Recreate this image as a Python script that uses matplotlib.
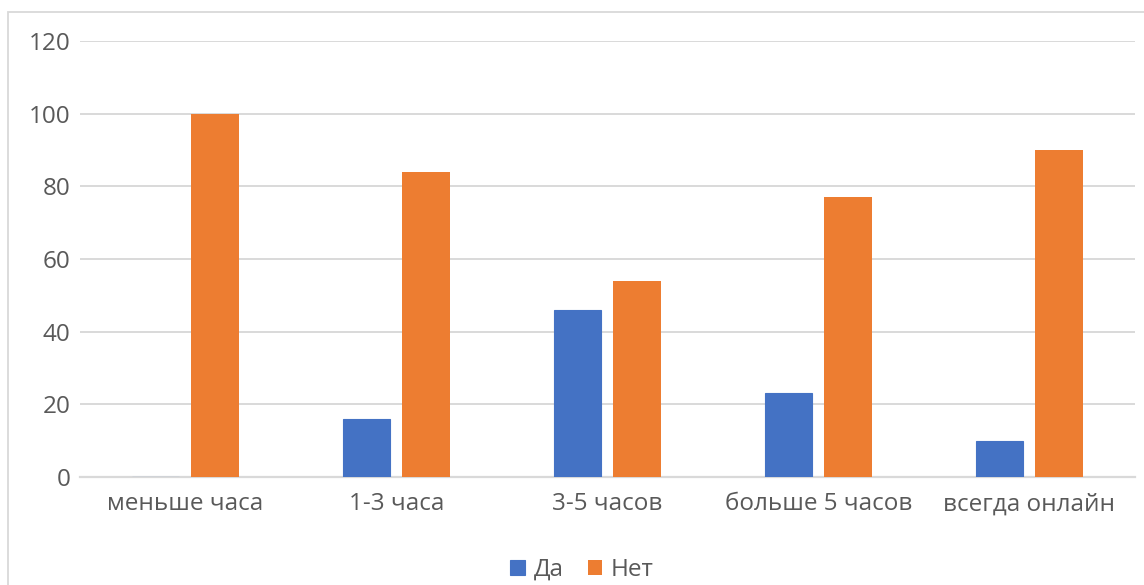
import numpy as np
import matplotlib.pyplot as plt
from matplotlib.patches import Rectangle

plt.rcParams["font.family"] = ["Open Sans", "DejaVu Sans"]

categories = ["меньше часа", "1-3 часа", "3-5 часов", "больше 5 часов", "всегда онлайн"]
yes_vals = [0, 16, 46, 23, 10]
no_vals = [100, 84, 54, 77, 90]

BLUE, ORANGE = "#4472C4", "#ED7D31"
TXT, GRID = "#595959", "#D9D9D9"
FS = 17.5

fig = plt.figure(figsize=(11.44, 5.85), dpi=100)
ax = fig.add_axes([0.0699, 0.1846, 0.9222, 0.7453])

# chart frame
fig.patches.append(Rectangle((8 / 1144, -0.2), 1.2, 1.2 - 12 / 585,
                             transform=fig.transFigure, fill=False,
                             edgecolor=GRID, lw=1.3))

x = np.arange(len(categories))
w = 0.227
off = 0.142
ax.bar(x - off, yes_vals, w, color=BLUE, edgecolor=BLUE, lw=0.8, label="Да", zorder=3)
ax.bar(x + off, no_vals, w, color=ORANGE, label="Нет", zorder=3)

ax.set_xlim(-0.5, len(categories) - 0.5)
ax.set_ylim(0, 120)
ax.set_yticks(range(0, 121, 20))
ax.set_xticks(x)
ax.set_xticklabels(categories)
ax.tick_params(length=0, labelsize=FS, labelcolor=TXT)
ax.tick_params(axis="y", pad=7)
ax.tick_params(axis="x", pad=11)
ax.grid(axis="y", color=GRID, lw=1.4, zorder=0)
for s in ["top", "right", "left"]:
    ax.spines[s].set_visible(False)
ax.spines["bottom"].set_color(GRID)
ax.spines["bottom"].set_linewidth(1.6)

fig.legend(loc="center", bbox_to_anchor=(582 / 1144, 1 - 570 / 585), ncol=2,
           frameon=False, fontsize=FS, labelcolor=TXT, handlelength=0.6,
           handleheight=0.6, handletextpad=0.35, columnspacing=1.0)

fig.savefig("out.png", dpi=100)
